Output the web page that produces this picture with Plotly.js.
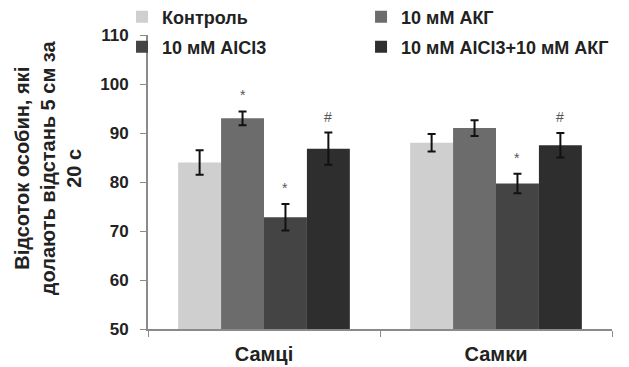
<!DOCTYPE html>
<html>
<head>
<meta charset="utf-8">
<script src="https://cdn.plot.ly/plotly-3.0.1.min.js"></script>
<style>html,body{margin:0;padding:0;background:#fff;}#chart{width:629px;height:367px;}</style>
</head>
<body>
<div id="chart"></div>
<script>
// ---- data ----
var categories = ['Самці', 'Самки'];
var seriesNames = ['Контроль', '10 мМ АКГ', '10 мМ AlCl3', '10 мМ AlCl3+10 мМ АКГ'];
var control      = [84.0, 88.0];
var akg          = [93.0, 91.0];
var alcl3        = [72.8, 79.7];
var alcl3Akg     = [86.8, 87.5];
var controlErr   = [2.5, 1.8];
var akgErr       = [1.4, 1.6];
var alcl3Err     = [2.7, 2.0];
var alcl3AkgErr  = [3.3, 2.5];
var controlSig   = ['', ''];
var akgSig       = ['*', ''];
var alcl3Sig     = ['*', '*'];
var alcl3AkgSig  = ['#', '#'];
var yTicks = [50, 60, 70, 80, 90, 100, 110];
var yTitle = 'Відсоток особин, які<br>долають відстань 5 см за<br>20 с';

var values = [control, akg, alcl3, alcl3Akg];
var errs = [controlErr, akgErr, alcl3Err, alcl3AkgErr];
var sigs = [controlSig, akgSig, alcl3Sig, alcl3AkgSig];
var colors = ['#cfcfcf', '#6c6c6c', '#444444', '#2e2e2e'];
var legendIds = ['legend', 'legend2', 'legend3', 'legend4'];
var bargap = 0.26;

var FONT = 'Liberation Sans, Arial, sans-serif';

var traces = values.map(function (v, i) {
  return {
    type: 'bar',
    name: seriesNames[i],
    x: categories,
    y: v,
    marker: {color: colors[i], line: {width: 0}},
    error_y: {type: 'data', array: errs[i], visible: true, color: '#111', thickness: 2, width: 4},
    legend: legendIds[i],
    hoverinfo: 'none'
  };
});

// significance marks placed above each error bar
var nSeries = values.length;
var barW = (1 - bargap) / nSeries;
var annotations = [];
for (var s = 0; s < nSeries; s++) {
  for (var c = 0; c < categories.length; c++) {
    if (!sigs[s][c]) continue;
    var offset = -(1 - bargap) / 2 + barW * (s + 0.5);
    annotations.push({
      x: c + offset, y: values[s][c] + errs[s][c],
      xref: 'x', yref: 'y', text: sigs[s][c], showarrow: false,
      yanchor: 'bottom', yshift: 6,
      font: {family: FONT, size: 14, color: '#555'}
    });
  }
}
// y-axis title (rotated text)
annotations.push({
  text: yTitle, xref: 'paper', yref: 'paper', x: -0.215, y: 0.548,
  xanchor: 'center', yanchor: 'middle', textangle: -90, showarrow: false,
  font: {family: FONT, size: 20, color: '#222', weight: 'bold'}
});

function leg(x, y) {
  return {x: x, y: y, xref: 'container', yref: 'container',
    xanchor: 'left', yanchor: 'middle', bgcolor: 'rgba(0,0,0,0)',
    font: {family: FONT, size: 18, color: '#222', weight: 'bold'}, itemclick: false};
}

var layout = {
  width: 629, height: 367,
  margin: {l: 148, r: 17, t: 35, b: 38, autoexpand: false},
  paper_bgcolor: '#fff', plot_bgcolor: '#fff',
  barmode: 'group', bargap: bargap, bargroupgap: 0,
  showlegend: true,
  legend: leg(0.194, 0.9537),
  legend2: leg(0.574, 0.9537),
  legend3: leg(0.194, 0.872),
  legend4: leg(0.574, 0.872),
  xaxis: {
    type: 'category', showgrid: false, zeroline: false,
    showline: true, linecolor: '#8a8a8a', linewidth: 2,
    ticks: 'outside', tickson: 'boundaries', ticklen: 6, tickcolor: '#8a8a8a', tickwidth: 1,
    ticklabelstandoff: 6, tickangle: 0,
    tickfont: {family: FONT, size: 20, color: '#222', weight: 'bold'}
  },
  yaxis: {
    range: [50, 110], tickvals: yTicks, showgrid: false, zeroline: false,
    showline: true, linecolor: '#8a8a8a', linewidth: 2,
    ticks: 'outside', ticklen: 6, tickcolor: '#8a8a8a', tickwidth: 1,
    ticklabelstandoff: 8,
    tickfont: {family: FONT, size: 17, color: '#222', weight: 'bold'}
  },
  annotations: annotations
};

Plotly.newPlot('chart', traces, layout, {displayModeBar: false, staticPlot: true});
</script>
</body>
</html>
